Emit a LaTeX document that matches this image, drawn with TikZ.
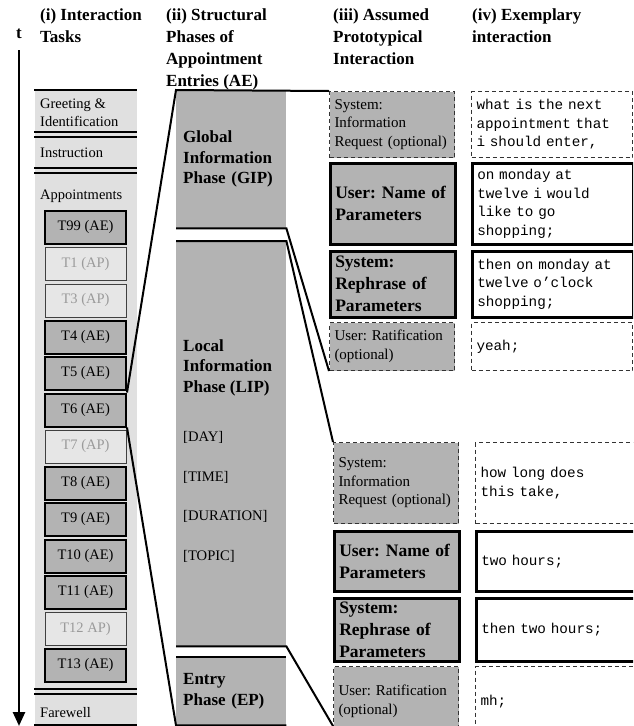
\documentclass[tikz,border=0pt]{standalone}
\usepackage{fontspec}
\setmainfont{Liberation Serif}
\setmonofont{Liberation Mono}[WordSpace={1,0,0}]
\usetikzlibrary{arrows.meta}
\definecolor{colbg}{HTML}{E0E0E0}
\definecolor{midgray}{HTML}{B3B3B3}
\definecolor{apfill}{HTML}{E6E6E6}
\definecolor{aptext}{HTML}{9A9A9A}
\definecolor{dashc}{HTML}{333333}
\newcommand{\fcoli}{\fontsize{14.5}{18}\selectfont}
\newcommand{\fhead}{\bfseries\fontsize{17}{21.7}\selectfont}
\newcommand{\fphb}{\bfseries\fontsize{17}{20.5}\selectfont}
\newcommand{\fphr}{\fontsize{14.6}{18}\selectfont}
\newcommand{\frole}{\fontsize{15}{18.5}\selectfont}
\newcommand{\froleb}{\bfseries\fontsize{17.5}{22}\selectfont}
\newcommand{\fmono}{\ttfamily\fontsize{14.3}{18.5}\selectfont\fontdimen2\font=0.6em\fontdimen3\font=0pt\fontdimen4\font=0pt}
\frenchspacing
\begin{document}
\begin{tikzpicture}[x=1pt,y=-1pt,
  sep/.style={line width=2pt},
  aebox/.style={draw=black,line width=2pt,fill=midgray,minimum width=81pt,minimum height=33pt,inner sep=0pt,font=\fcoli},
  apbox/.style={draw=black!75,line width=0.9pt,fill=apfill,text=aptext,minimum width=81pt,minimum height=33pt,inner sep=0pt,font=\fcoli},
  phasebox/.style={fill=midgray,draw=none,anchor=north west,minimum width=110pt,inner xsep=7pt,inner ysep=0pt},
  rolebase/.style={anchor=north west,inner xsep=5pt,inner ysep=0pt,align=left,fill=midgray},
  optrole/.style={rolebase,draw=dashc,line width=1pt,dash pattern=on 4pt off 3pt,font=\frole},
  mainrole/.style={rolebase,draw=black,line width=2.5pt,font=\froleb},
  exbase/.style={anchor=north west,inner xsep=5pt,inner ysep=0pt,align=left,fill=white,font=\fmono},
  optex/.style={exbase,draw=dashc,line width=1pt,dash pattern=on 4pt off 3pt},
  mainex/.style={exbase,draw=black,line width=2.5pt},
  head/.style={anchor=north west,inner sep=0pt,align=left,font=\fhead},
  lbl/.style={anchor=base west,inner sep=0pt},
]
\useasboundingbox (0,0) rectangle (633,726);
\clip (0,0) rectangle (633,726);

% headers
\node[anchor=base,inner sep=0pt,font=\fhead] (tlab) at (19,38) {t};
\node[head] (h1) at (40,9) {(i) Interaction\\Tasks};
\node[head] (h2) at (166,9) {(ii) Structural\\Phases of\\Appointment\\Entries (AE)};
\node[head] (h3) at (333,9) {(iii) Assumed\\Prototypical\\Interaction};
\node[head] (h4) at (472,9) {(iv) Exemplary\\interaction};

% time arrow
\coordinate (tstart) at (19,50);
\coordinate (tend) at (19,726);
\draw[line width=2.5pt,-{Triangle[length=14pt,width=12pt]}] (tstart) -- (tend);

% column (i)
\fill[colbg] (35,90) rectangle (137,725);
\foreach \yy in {90,131.5,136.5,167.5,172.5,689,693.5,725}
  \draw[sep] (34,\yy) -- (137,\yy);
\node[anchor=north west,align=left,inner sep=0pt,font=\fcoli] (greet) at (40,99) {Greeting \&\\Identification};
\node[lbl,font=\fcoli] (instr) at (40,157) {Instruction};
\node[lbl,font=\fcoli] (appts) at (40,199) {Appointments};
\node[lbl,font=\fcoli] (farew) at (40,717) {Farewell};

\node[aebox] (t99) at (85.5,227.5) {T99 (AE)};
\node[apbox] (t1) at (85.5,264) {T1 (AP)};
\node[apbox] (t3) at (85.5,300.5) {T3 (AP)};
\node[aebox] (t4) at (85.5,337) {T4 (AE)};
\node[aebox] (t5) at (85.5,373.5) {T5 (AE)};
\node[aebox] (t6) at (85.5,410) {T6 (AE)};
\node[apbox] (t7) at (85.5,446.5) {T7 (AP)};
\node[aebox] (t8) at (85.5,483) {T8 (AE)};
\node[aebox] (t9) at (85.5,519.5) {T9 (AE)};
\node[aebox] (t10) at (85.5,556) {T10 (AE)};
\node[aebox] (t11) at (85.5,592.5) {T11 (AE)};
\node[apbox] (t12) at (85.5,629) {T12 AP)};
\node[aebox] (t13) at (85.5,665.5) {T13 (AE)};

% column (ii)
\node[phasebox,minimum height=138pt,text width=96pt,align=left,font=\fphb] (gip) at (176,90) {Global\\Information\\Phase (GIP)};
\node[phasebox,minimum height=405pt] (lip) at (176,241) {};
\node[phasebox,minimum height=68pt,text width=96pt,align=left,font=\fphb] (ep) at (176,657) {Entry\\Phase (EP)};
\node[anchor=north west,align=left,inner sep=0pt,font=\fphb] (liptxt) at (183,339) {Local\\Information\\Phase (LIP)};
\node[lbl,font=\fphr] (pday) at (183,441) {[DAY]};
\node[lbl,font=\fphr] (ptime) at (183,481) {[TIME]};
\node[lbl,font=\fphr] (pdur) at (183,520) {[DURATION]};
\node[lbl,font=\fphr] (ptop) at (183,560) {[TOPIC]};

% column (iii) group 1
\node[optrole,text width=115pt,minimum height=66pt] (sir1) at (329,91) {System:\\Information\\Request (optional)};
\node[mainrole,text width=115pt,minimum height=81pt] (un1) at (329,162) {User: Name of\\Parameters};
\node[mainrole,text width=115pt,minimum height=66pt] (sr1) at (329,250) {System:\\Rephrase of\\Parameters};
\node[optrole,text width=115pt,minimum height=48pt] (ur1) at (329,322) {User: Ratification\\(optional)};

% column (iv) group 1
\node[optex,text width=151pt,minimum height=66pt] (ex1) at (471,91) {what is the next\\appointment that\\i should enter,};
\node[mainex,text width=151pt,minimum height=81pt] (ex2) at (471,162) {on monday at\\twelve i would\\like to go\\shopping;};
\node[mainex,text width=151pt,minimum height=66pt] (ex3) at (471,250) {then on monday at\\twelve o’clock\\shopping;};
\node[optex,text width=151pt,minimum height=48pt] (ex4) at (471,322) {yeah;};

% column (iii) group 2
\node[optrole,text width=115pt,minimum height=81pt] (sir2) at (333,442) {System:\\Information\\Request (optional)};
\node[mainrole,text width=115pt,minimum height=60pt] (un2) at (333,530) {User: Name of\\Parameters};
\node[mainrole,text width=115pt,minimum height=63pt] (sr2) at (333,597) {System:\\Rephrase of\\Parameters};
\node[optrole,text width=115pt,minimum height=70pt] (ur2) at (333,666) {User: Ratification\\(optional)};

% column (iv) group 2
\node[optex,text width=170pt,minimum height=81pt] (ex5) at (475,442) {how long does\\this take,};
\node[mainex,text width=170pt,minimum height=60pt] (ex6) at (475,530) {two hours;};
\node[mainex,text width=170pt,minimum height=63pt] (ex7) at (475,597) {then two hours;};
\node[optex,text width=170pt,minimum height=70pt] (ex8) at (475,666) {mh;};

% connectors
\coordinate (ur2cut) at (333,726);
\draw[sep] (t6.north east) -- (gip.north west) -- (sir1.north west);
\draw[sep] (gip.south west) -- (gip.south east) -- (ur1.south west);
\draw[sep] (lip.north west) -- (lip.north east) -- (sir2.north west);
\draw[sep] (lip.south west) -- (lip.south east) -- (ur2cut);
\draw[sep] (t6.south east) -- (ep.south west) -- (ep.south east);
\draw[sep] (ep.north west) -- (ep.north east);
\end{tikzpicture}
\end{document}
